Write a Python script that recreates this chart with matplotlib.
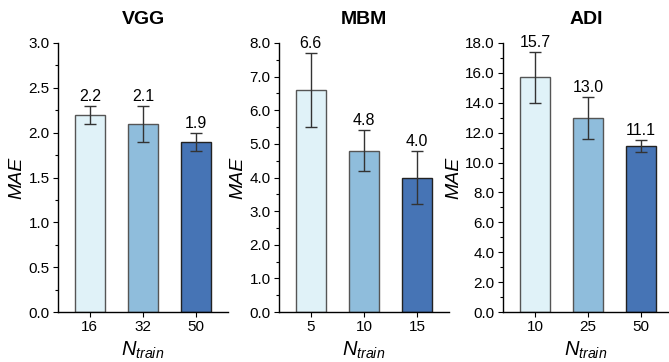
import matplotlib
matplotlib.use("Agg")
import matplotlib.pyplot as plt
from matplotlib.ticker import MultipleLocator, FormatStrFormatter

plt.rcParams['font.family'] = ['Liberation Sans', 'DejaVu Sans']
plt.rcParams['mathtext.fontset'] = 'custom'
plt.rcParams['mathtext.it'] = 'Liberation Sans:italic'
plt.rcParams['mathtext.rm'] = 'Liberation Sans'

# data
titles = ["VGG", "MBM", "ADI"]
n_train = [["16", "32", "50"], ["5", "10", "15"], ["10", "25", "50"]]
mae_vgg = [2.2, 2.1, 1.9]
err_vgg = [0.1, 0.2, 0.1]
mae_mbm = [6.6, 4.8, 4.0]
err_mbm = [1.1, 0.6, 0.8]
mae_adi = [15.7, 13.0, 11.1]
err_adi = [1.7, 1.4, 0.4]
y_max = [3.0, 8.0, 18.0]
y_step = [0.5, 1.0, 2.0]

bar_colors = ["#E0F2F8", "#8FBDDC", "#4674B5"]
edge_colors = ["#555555", "#555555", "#222222"]

fig = plt.figure(figsize=(6.69, 3.62), dpi=100)

# axes placement in pixels (left, width)
panels = [(58, 170), (279, 170), (503, 166)]
bottom = (362 - 312) / 362
height = 269 / 362

means = [mae_vgg, mae_mbm, mae_adi]
errs = [err_vgg, err_mbm, err_adi]

for i in range(3):
    left, width = panels[i]
    ax = fig.add_axes([left / 669, bottom, width / 669, height])
    xs = list(range(len(n_train[i])))
    ax.bar(xs, means[i], width=0.56, color=bar_colors,
           edgecolor=edge_colors, linewidth=1.0, zorder=2)
    ax.errorbar(xs, means[i], yerr=errs[i], fmt='none', ecolor='#333333',
                elinewidth=1.0, capsize=4.5, capthick=1.0, zorder=3)
    for x, m, e in zip(xs, means[i], errs[i]):
        ax.annotate("%.1f" % m, (x, m + e), xytext=(0, 1.5),
                    textcoords='offset points', ha='center', va='bottom',
                    fontsize=11.5)

    ax.set_xlim(-0.6, -0.6 + 3.2 * width / 170)
    ax.set_ylim(0, y_max[i])
    ax.set_xticks(xs)
    ax.set_xticklabels(n_train[i])
    ax.yaxis.set_major_locator(MultipleLocator(y_step[i]))
    ax.yaxis.set_minor_locator(MultipleLocator(y_step[i] / 2))
    ax.yaxis.set_major_formatter(FormatStrFormatter('%.1f'))
    ax.tick_params(axis='both', which='major', labelsize=11, length=3.5,
                   width=0.8, direction='out', pad=2.5)
    ax.tick_params(axis='y', which='minor', length=2, width=0.8)
    for s in ['top', 'right']:
        ax.spines[s].set_visible(False)
    for s in ['left', 'bottom']:
        ax.spines[s].set_linewidth(1.0)

    ax.set_title(titles[i], fontsize=14, fontweight='bold', pad=14)
    ax.set_ylabel("MAE", fontsize=14, fontstyle='italic', labelpad=2)
    ax.set_xlabel(r"$\mathit{N}_{\mathit{train}}$", fontsize=14.5, labelpad=4)

fig.savefig("out.png", dpi=100)
